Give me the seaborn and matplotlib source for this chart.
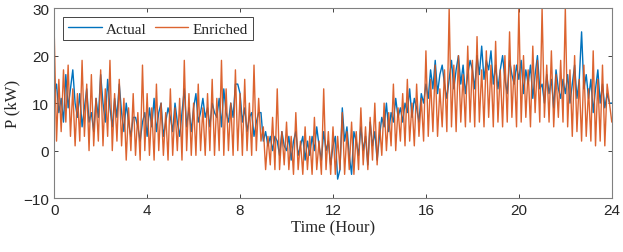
import numpy as np
import pandas as pd
import matplotlib
matplotlib.use("Agg")
import matplotlib.pyplot as plt
import seaborn as sns

# -------------------------------
# DATA (10 samples per hour)
# -------------------------------
actual = [
    12, 14, 8, 11, 6, 16, 9, 13, 17, 10,
    7, 12, 5, 9, 13, 6, 8, 4, 11, 7,
    16, 10, 6, 15, 9, 5, 11, 7, 14, 8,
    4, 10, 6, 3, 7, 7, 5, 2, 6, 8,
    3, 9, 5, 11, 4, 8, 10, 3, 6, 9,
    7, 4, 10, 6, 3, 8, 13, 5, 9, 4,
    9, 12, 6, 8, 11, 7, 9, 5, 10, 8,
    7, 11, 5, 13, 8, 6, 10, 7, 14, 14,
    12, 6, 9, 4, 7, 8, 3, 6, 8, 8,
    2, 4, 1, 3, 0, 3, 2, -1, 4, 1,
    0, 3, -2, 2, 4, -1, 1, 3, -2, 2,
    -1, 3, 0, 5, 1, -2, 4, 0, 2, -3,
    1, 3, -6, -4, 9, 2, 5, -1, -5, 4,
    2, -1, 5, 0, 3, -3, 6, 1, 4, -2,
    3, 7, 5, 10, 4, 8, 6, 11, 7, 9,
    6, 10, 8, 13, 7, 11, 9, 6, 12, 10,
    14, 11, 17, 13, 19, 12, 16, 18, 14, 11,
    15, 19, 13, 17, 20, 14, 18, 12, 16, 19,
    17, 13, 20, 16, 22, 15, 19, 17, 21, 14,
    18, 13, 17, 20, 15, 12, 19, 16, 14, 18,
    15, 19, 12, 17, 14, 18, 11, 16, 20, 13,
    14, 10, 16, 12, 15, 9, 17, 13, 11, 15,
    12, 16, 10, 14, 18, 11, 15, 25, 13, 16,
    11, 15, 8, 13, 17, 10, 14, 9, 12, 10,
    10,
]

enriched = [
    25, 2, 15, 4, 17, 6, 18, 3, 13, 1,
    12, 2, 19, 3, 14, 0, 16, 1, 11, 2,
    17, 1, 13, 3, 19, 0, 12, 2, 15, 1,
    11, -2, 9, 0, 12, -1, 8, -2, 18, 0,
    12, -1, 9, -2, 14, 0, 10, -1, 8, -2,
    13, -1, 9, 0, 11, -2, 19, 0, 12, -1,
    10, -1, 14, 0, 9, -1, 12, 0, 15, -1,
    11, 0, 19, -1, 13, 0, 10, -1, 17, 0,
    12, -1, 15, 0, 10, -1, 18, 0, 11, 2,
    5, -4, 3, -3, 7, -4, 13, -4, 4, -3,
    6, -4, 3, -5, 8, -4, 2, -5, 5, -4,
    3, -5, 7, -4, 2, -5, 13, -4, 4, -5,
    5, -5, 3, -4, 8, -5, 4, -4, 6, -5,
    4, -4, 9, -3, 5, -4, 7, -2, 10, -3,
    6, -1, 10, 0, 8, 1, 14, 0, 9, 2,
    12, 1, 15, 2, 10, 1, 14, 3, 11, 2,
    21, 3, 15, 4, 18, 3, 13, 5, 17, 4,
    30, 5, 18, 4, 20, 6, 16, 5, 22, 6,
    19, 5, 24, 6, 17, 5, 21, 7, 18, 5,
    23, 6, 17, 5, 20, 6, 25, 7, 18, 5,
    30, 6, 20, 7, 17, 5, 22, 8, 19, 6,
    30, 7, 18, 6, 21, 5, 16, 7, 19, 6,
    30, 5, 17, 3, 20, 4, 15, 2, 18, 3,
    13, 2, 21, 1, 15, 2, 18, 1, 14, 10,
    6,
]

hours = np.linspace(0, 24, len(actual))
x_ticks = [0, 4, 8, 12, 16, 20, 24]
y_ticks = [-10, 0, 10, 20, 30]

df = pd.DataFrame({"Time": hours, "Actual": actual, "Enriched": enriched})

# -------------------------------
# PLOT
# -------------------------------
sns.set_style("ticks")
plt.rcParams["font.family"] = ["Liberation Sans", "DejaVu Sans"]

fig = plt.figure(figsize=(6.23, 2.53), dpi=100)
ax = fig.add_axes([0.087, 0.213, 0.895, 0.751])

sns.lineplot(data=df, x="Time", y="Actual", ax=ax, color="#0072BD",
             lw=1.0, label="Actual")
sns.lineplot(data=df, x="Time", y="Enriched", ax=ax, color="#D95319",
             lw=1.0, alpha=0.9, label="Enriched")

ax.set_xlim(0, 24)
ax.set_ylim(-10, 30)
ax.set_xticks(x_ticks)
ax.set_yticks(y_ticks)
ax.tick_params(direction="in", length=3, width=0.6, labelsize=11,
               top=True, right=True, colors="#262626")
for s in ax.spines.values():
    s.set_color("#808080")
    s.set_linewidth(0.8)

serif = {"family": ["Liberation Serif", "DejaVu Serif"], "size": 12}
ax.set_xlabel("Time (Hour)", fontdict=serif, labelpad=2)
ax.set_ylabel("P (kW)", fontdict=serif, labelpad=2)

leg = ax.legend(loc="upper left", ncol=2, frameon=True, fancybox=False,
                prop={"family": "Liberation Serif", "size": 11},
                handlelength=2.2, handletextpad=0.3, columnspacing=0.5,
                borderpad=0.3, borderaxespad=0.6)
leg.get_frame().set_edgecolor("#262626")
leg.get_frame().set_linewidth(0.6)
leg.get_frame().set_alpha(1)

fig.savefig("out.png", dpi=100)
